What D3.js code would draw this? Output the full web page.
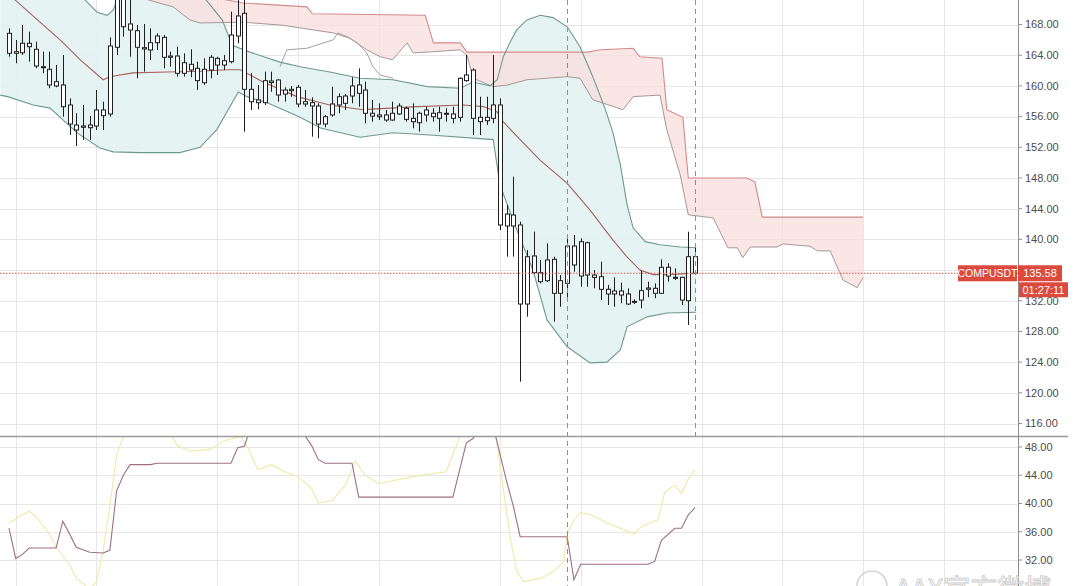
<!DOCTYPE html>
<html><head><meta charset="utf-8">
<script src="https://cdn.jsdelivr.net/npm/d3@7"></script>
<style>
html,body{margin:0;padding:0;background:#fff;}
svg{display:block;font-family:"Liberation Sans",Arial,sans-serif;}
</style>
</head><body>
<svg id="chart" width="1080" height="586"></svg>
<script>
// ---------- DATA ----------
const symbol = "COMPUSDT";
const lastPrice = 135.58;
const countdown = "01:27:11";
const watermark = "AAX官方微博";

const candleOpen = [166.85,164.25,164.32,165.55,164.77,162.50,162.16,159.99,160.12,157.51,
 154.90,154.60,154.55,154.77,156.12,156.34,165.03,172.60,168.07,167.19,
 164.98,164.68,165.63,166.33,163.89,163.89,161.64,162.81,162.29,160.41,
 162.07,163.59,162.72,163.15,166.50,169.46,159.55,157.81,157.81,160.64,
 160.77,158.94,159.55,159.82,157.94,157.81,157.38,155.03,156.21,157.51,
 158.68,158.68,160.12,159.46,156.43,156.21,155.55,155.55,156.34,157.08,
 155.77,155.20,156.21,156.43,155.77,156.43,156.34,155.90,160.68,162.07,
 155.90,155.46,155.77,157.51,141.74,143.17,141.87,131.57,137.83,135.65,
 134.61,137.40,132.97,134.27,139.13,135.22,139.56,135.35,135.13,133.49,
 132.88,133.27,132.88,131.92,132.09,133.49,133.62,132.97,136.36,135.05,
 135.05,132.00,137.74];
const candleHigh = [167.50,165.98,167.94,167.06,165.76,164.46,164.46,162.72,164.03,158.38,
 156.43,157.51,156.07,159.46,157.94,166.33,172.50,173.20,173.00,167.94,
 168.07,167.50,166.85,166.63,164.46,165.11,164.25,164.77,163.15,163.59,
 164.03,163.80,164.03,169.67,172.00,172.00,161.64,160.12,161.85,161.85,
 160.86,159.82,159.99,160.12,159.46,158.51,157.73,156.21,159.89,159.03,
 158.94,161.12,162.29,160.55,158.16,157.73,156.86,157.94,157.73,157.29,
 157.73,156.63,157.29,157.08,157.29,157.08,157.29,161.10,164.03,162.29,
 158.59,158.59,164.03,158.38,144.48,148.16,142.30,138.61,141.00,137.31,
 139.48,137.74,135.35,140.14,140.57,140.14,139.69,136.00,137.09,134.05,
 135.05,134.35,133.62,132.18,135.91,134.48,134.27,137.40,136.88,136.23,
 135.13,141.00,139.04];
const candleLow = [163.80,162.94,164.03,163.15,162.29,161.64,159.69,159.82,155.98,153.60,
 152.16,152.95,152.95,154.25,154.25,155.98,164.03,166.41,163.80,160.99,
 161.85,163.37,164.68,162.29,162.50,161.20,161.20,161.12,159.46,160.12,
 160.99,161.42,162.07,162.94,165.55,154.03,156.86,156.95,157.51,159.24,
 157.94,157.94,158.59,157.21,157.29,153.38,153.17,154.60,155.98,156.43,
 156.86,157.73,157.29,155.12,155.33,155.55,155.33,155.46,156.21,155.33,
 154.47,154.03,155.33,155.33,154.03,155.33,155.12,155.33,160.55,153.60,
 153.60,154.90,155.12,141.22,137.74,137.74,121.45,129.92,135.48,134.27,
 134.44,129.27,131.22,132.32,135.78,133.83,133.83,133.62,132.09,131.44,
 131.22,131.66,131.44,131.57,131.01,132.45,132.32,132.90,134.48,134.70,
 131.44,128.84,135.35];
const candleClose = [164.25,164.46,165.55,165.11,162.59,162.37,160.12,160.55,157.29,155.03,
 154.25,154.77,154.90,156.86,156.86,165.20,171.45,167.71,167.28,165.03,
 164.81,165.63,166.50,163.73,163.73,161.64,163.02,162.07,160.68,162.16,
 163.73,162.72,163.28,166.63,169.11,159.55,157.94,158.16,160.68,160.44,
 158.81,159.46,159.37,157.64,157.64,157.38,155.03,155.98,157.64,158.59,
 157.73,159.99,159.03,156.43,156.07,155.98,156.21,156.43,157.38,155.64,
 155.33,156.43,156.86,155.98,156.50,156.30,155.77,160.99,161.42,155.77,
 155.33,155.90,157.51,141.87,143.30,141.74,131.57,137.74,135.65,134.48,
 137.31,132.97,134.61,139.13,136.66,139.69,135.35,135.05,133.49,132.88,
 133.27,132.75,131.57,131.83,133.31,133.66,132.97,136.36,135.22,134.92,
 132.09,137.74,135.58];

// Bollinger bands, x = bar index
const bbUpperIdx = [-1.3,9.1,11.3,13.1,14.6,15.5,16.5,21.0,28.4,31.7,33.2,35.8,40.3,43.3,47.7,52.2,57.1,62.2,67.1,69.0,
 71.5,72.6,73.5,74.5,75.5,77.0,79.0,80.9,83.0,84.9,86.8,88.6,89.8,90.9,91.9,92.8,94.6,96.8,99.8,102.2];
const bbUpperVal = [176.4,172.8,171.2,169.6,169.2,169.9,172.2,172.8,172.2,168.6,165.3,164.4,163.1,162.5,161.8,161.0,160.8,159.9,159.7,160.5,
 160.0,160.8,163.8,165.7,167.3,168.6,169.2,168.9,167.7,165.1,161.2,157.1,153.9,149.7,144.5,141.5,139.7,139.3,139.0,138.9];
const bbMidIdx = [-1.3,0.9,4.6,7.6,10.6,14.0,15.0,18.4,23.5,28.4,32.4,34.4,37.8,42.8,47.7,52.6,60.7,67.5,70.5,72.6,
 73.5,76.0,79.0,83.0,86.4,89.8,91.9,93.8,95.8,97.8,102.2];
const bbMidVal = [173.0,171.2,168.3,166.0,163.4,160.8,161.2,161.7,161.8,161.9,162.1,162.1,160.5,158.6,157.5,156.9,157.3,157.5,157.3,156.6,
 155.3,153.0,150.3,147.3,143.8,139.9,137.7,136.0,135.4,135.4,135.6];
const bbLowerIdx = [-1.3,-0.2,3.6,6.1,10.1,13.5,15.5,19.5,25.4,28.4,30.9,34.1,35.4,38.4,43.3,46.3,52.2,57.1,62.6,72.0,
 73.0,75.2,77.9,80.0,83.0,86.4,88.9,90.9,91.9,94.9,97.8,102.2];
const bbLowerVal = [158.8,158.6,157.5,157.1,153.9,151.9,151.4,151.3,151.3,152.0,154.3,159.2,158.6,157.8,155.9,154.5,153.3,153.9,153.6,153.0,
 147.1,141.9,136.0,129.5,126.0,123.9,124.0,125.6,128.6,129.9,130.4,130.5];

// Ichimoku-style cloud (leading spans)
const cloudTopIdx = [19.5,30.6,34.8,44.3,45.1,61.9,63.1,67.1,68.1,86.0,87.9,92.8,93.8,97.1,97.8,100.2,101.0,109.7,110.9,112.0,127.0];
const cloudTopVal = [172.5,171.5,170.8,170.3,169.4,169.2,165.6,165.6,164.4,164.4,164.7,164.9,163.8,163.6,156.9,155.9,148.0,148.0,147.5,142.9,142.9];
const cloudBotIdx = [19.5,24.4,26.9,28.4,34.8,40.7,48.2,50.7,53.2,55.2,57.0,59.2,60.1,62.2,67.1,68.1,69.0,72.0,74.1,77.0,
 80.0,83.0,84.9,86.8,91.3,92.8,96.8,97.8,99.8,101.0,104.7,106.9,108.3,109.1,110.2,114.2,115.1,119.1,120.2,122.1,124.0,126.1,127.0];
const cloudBotVal = [171.5,170.3,168.6,168.2,168.3,167.9,166.9,166.2,164.7,163.8,163.4,165.6,164.3,164.4,164.7,164.0,161.0,159.9,160.1,160.8,
 161.0,161.2,161.0,158.2,156.9,158.6,158.8,154.3,148.4,143.2,142.8,138.9,138.9,137.6,139.0,139.0,139.4,139.1,138.5,138.5,134.7,133.7,135.0];
const spanIdx = [40.3,41.3,44.3,48.2,48.9,50.3,51.8,53.2,54.1,55.2,57.1];
const spanVal = [162.5,164.7,164.9,166.0,166.9,166.4,165.6,164.3,162.5,161.4,161.0];

// lower oscillator pane
const oscMauveIdx = [0,1,2,3,7,8,9,10,12,14,15,16,17,18,21,22,33,34,35,36,43,45,46,47,51,52,66,68,69,70,
 72,73,74,75,76,83,84,85,95,96,97,99,100,101,102];
const oscMauveVal = [36.5,32.2,32.8,33.7,33.7,37.5,35.7,33.8,33.1,33.0,33.4,41.8,44.0,45.5,45.5,45.7,45.7,47.9,48.1,51,
 51,48.2,46.2,45.7,45.7,40.9,40.9,48.6,49.2,51,51,47,43.1,39.6,35.3,35.3,29.2,31.4,31.4,31.8,34.8,36.5,36.5,38.4,39.4];
const oscYellowIdx = [0,2,3,4,6,7,9,10,12,13,14,15,16,17,18,23,24,25,27,30,32,34.5,35.5,37,39,41,43,45,46,48,
 50,51.5,53,55,60,65,67,68,71,72.5,73.5,74.5,75.5,76.5,79,81,82.5,83,84,85,86.5,89,93,94,96.5,97.5,99,100,101,102];
const oscYellowVal = [37.2,38.4,38.9,38.2,35.7,33.8,31.4,29.4,27.9,28.9,33.3,39.6,46.9,49.4,52,52,49.9,48.2,47.4,47.7,
 48.9,49.5,47.9,44.8,45.5,44.5,43.8,42.1,40.1,40.4,42.6,46.0,44.0,42.8,43.8,44.5,49.4,52,52,48.9,
 42.1,35.3,30.4,28.9,29.4,30.4,31.8,35.7,37.7,38.7,38.4,37.2,35.7,36.7,37.7,41.6,42.6,41.4,43.5,44.8];

const priceTicks = [116,120,124,128,132,136,140,144,148,152,156,160,164,168];
const oscTicks = [32,36,40,44,48];
const gridIdx = [1,13,31,43,55,73,85,103,115,127,139];
const markerIdx = [83,102];

// ---------- LAYOUT ----------
const W = 1080, H = 586, axisX = 1018, sepY = 436;
const svg = d3.select("#chart");
const x = d3.scaleLinear().domain([0,102]).range([9,695]);
const y = d3.scaleLinear().domain([116,168]).range([423.5,24.5]);
const y2 = d3.scaleLinear().domain([32,48]).range([560,447]);

const defs = svg.append("defs");
defs.append("clipPath").attr("id","clipTop").append("rect").attr("x",0).attr("y",0).attr("width",axisX).attr("height",sepY);
defs.append("clipPath").attr("id","clipBot").append("rect").attr("x",0).attr("y",sepY+1).attr("width",axisX).attr("height",H-sepY-1);

svg.append("rect").attr("width",W).attr("height",H).attr("fill","#fff");

// grid
const grid = svg.append("g").attr("stroke","#e7e7e7").attr("stroke-width",1);
priceTicks.forEach(t=>{ const yy=Math.round(y(t))+0.5; grid.append("line").attr("x1",0).attr("x2",axisX).attr("y1",yy).attr("y2",yy); });
oscTicks.forEach(t=>{ const yy=Math.round(y2(t))+0.5; grid.append("line").attr("x1",0).attr("x2",axisX).attr("y1",yy).attr("y2",yy); });
gridIdx.forEach(i=>{ const xx=Math.round(x(i))+0.5; if(xx<axisX) grid.append("line").attr("x1",xx).attr("x2",xx).attr("y1",0).attr("y2",H); });

const zip = (a,b)=>a.map((v,i)=>[v,b[i]]);
const lineP = d3.line().x(d=>x(d[0])).y(d=>y(d[1]));
const lineO = d3.line().x(d=>x(d[0])).y(d=>y2(d[1]));

const topPane = svg.append("g").attr("clip-path","url(#clipTop)");

const cTop = zip(cloudTopIdx,cloudTopVal), cBot = zip(cloudBotIdx,cloudBotVal);
const bU = zip(bbUpperIdx,bbUpperVal), bL = zip(bbLowerIdx,bbLowerVal), bM = zip(bbMidIdx,bbMidVal);
// BB fill (under)
topPane.append("path").attr("d", lineP(bU.concat(bL.slice().reverse()))+"Z")
  .attr("fill","#e2f3f2").attr("fill-opacity",0.9);
// cloud fill (over)
topPane.append("path").attr("d", lineP(cTop.concat(cBot.slice().reverse()))+"Z")
  .attr("fill","#f9dcdc").attr("fill-opacity",0.72);

// lines
topPane.append("path").attr("d",lineP(cTop)).attr("fill","none").attr("stroke","#d48a8a").attr("stroke-width",1.1);
topPane.append("path").attr("d",lineP(cBot)).attr("fill","none").attr("stroke","#a79898").attr("stroke-width",1);
topPane.append("path").attr("d",lineP(zip(spanIdx,spanVal))).attr("fill","none").attr("stroke","#a8a0a0").attr("stroke-width",1);
topPane.append("path").attr("d",lineP(bU)).attr("fill","none").attr("stroke","#6e9a8e").attr("stroke-width",1.1);
topPane.append("path").attr("d",lineP(bL)).attr("fill","none").attr("stroke","#6e9a8e").attr("stroke-width",1.1);
topPane.append("path").attr("d",lineP(bM)).attr("fill","none").attr("stroke","#a5625e").attr("stroke-width",1.1);

// candles
const cg = topPane.append("g");
candleOpen.forEach((o,i)=>{
  const c = candleClose[i], hi = candleHigh[i], lo = candleLow[i];
  const cx = Math.round(x(i))+0.5;
  cg.append("line").attr("x1",cx).attr("x2",cx).attr("y1",y(hi)).attr("y2",y(lo))
    .attr("stroke","#1e1e1e").attr("stroke-width",1);
  const yt = y(Math.max(o,c)), yb = y(Math.min(o,c));
  cg.append("rect").attr("x",cx-2).attr("y",yt).attr("width",4).attr("height",Math.max(1,yb-yt))
    .attr("fill","#fff").attr("stroke","#1e1e1e").attr("stroke-width",1);
});

// lower pane lines
const botPane = svg.append("g").attr("clip-path","url(#clipBot)");
botPane.append("path").attr("d",lineO(zip(oscYellowIdx,oscYellowVal))).attr("fill","none").attr("stroke","#efe9a6").attr("stroke-width",1.1);
botPane.append("path").attr("d",lineO(zip(oscMauveIdx,oscMauveVal))).attr("fill","none").attr("stroke","#9e6f86").attr("stroke-width",1.1);

// last price dotted line
const yl = y(lastPrice);
svg.append("line").attr("x1",0).attr("x2",axisX).attr("y1",yl).attr("y2",yl)
  .attr("stroke","#d9534f").attr("stroke-width",1).attr("stroke-dasharray","1.5,1.5");

// dashed vertical markers
markerIdx.forEach((m,k)=>{
  const xx = Math.round(x(m))+0.5;
  svg.append("line").attr("x1",xx).attr("x2",xx).attr("y1",0).attr("y2", k===0 ? H : sepY)
    .attr("stroke","#7f8fae").attr("stroke-width",1).attr("stroke-dasharray","5,4");
});

// separator & axis
svg.append("line").attr("x1",0).attr("x2",1068).attr("y1",sepY+0.5).attr("y2",sepY+0.5).attr("stroke","#9a9a9a").attr("stroke-width",1.3);
svg.append("line").attr("x1",axisX+0.5).attr("x2",axisX+0.5).attr("y1",0).attr("y2",H).attr("stroke","#8e8e8e").attr("stroke-width",1);

const ax = svg.append("g").attr("font-size",11).attr("fill","#4d4d4d");
priceTicks.forEach(t=>{
  const yy=y(t);
  ax.append("line").attr("x1",axisX).attr("x2",axisX+4).attr("y1",yy).attr("y2",yy).attr("stroke","#8e8e8e");
  if (Math.abs(yy-yl) > 12)   // labels hidden behind the last-price tag
    ax.append("text").attr("x",axisX+7).attr("y",yy).attr("dy","0.35em").text(t.toFixed(2));
});
oscTicks.forEach(t=>{
  const yy=y2(t);
  ax.append("line").attr("x1",axisX).attr("x2",axisX+4).attr("y1",yy).attr("y2",yy).attr("stroke","#8e8e8e");
  ax.append("text").attr("x",axisX+7).attr("y",yy).attr("dy","0.35em").text(t.toFixed(2));
});

// price labels
const red = "#dc4a3d";
svg.append("rect").attr("x",958).attr("y",yl-8).attr("width",59).attr("height",16).attr("fill",red);
svg.append("rect").attr("x",axisX).attr("y",yl-8).attr("width",44).attr("height",16).attr("fill",red);
svg.append("rect").attr("x",axisX+1).attr("y",yl+9).attr("width",49).attr("height",15).attr("fill",red);
svg.append("text").attr("x",987.5).attr("y",yl).attr("dy","0.36em").attr("text-anchor","middle").attr("font-size",10.5).attr("fill","#fff").text(symbol);
svg.append("text").attr("x",axisX+22).attr("y",yl).attr("dy","0.36em").attr("text-anchor","middle").attr("font-size",11).attr("fill","#fff").text(lastPrice.toFixed(2));
svg.append("text").attr("x",axisX+25.5).attr("y",yl+16.5).attr("dy","0.36em").attr("text-anchor","middle").attr("font-size",11).attr("fill","#fff").text(countdown);

// watermark (cut by the bottom edge, as in the source image)
const wm = svg.append("g").attr("opacity",0.9);
wm.append("circle").attr("cx",872).attr("cy",586).attr("r",15).attr("fill","none").attr("stroke","#cfcfcf").attr("stroke-width",1.5);
wm.append("text").attr("x",895).attr("y",599).attr("font-size",27)
  .attr("font-family","'Noto Sans CJK SC','Noto Sans',sans-serif")
  .attr("fill","#fafafa").attr("stroke","#c9c9c9").attr("stroke-width",0.9).text(watermark);
</script>
</body></html>
